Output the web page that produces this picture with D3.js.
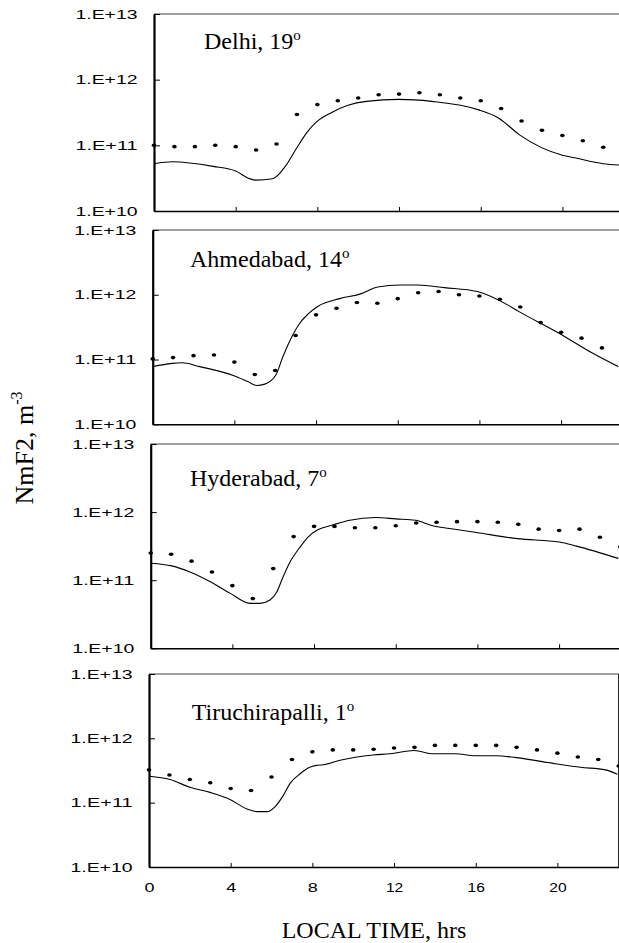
<!DOCTYPE html>
<html>
<head>
<meta charset="utf-8">
<script src="https://cdn.jsdelivr.net/npm/d3@7"></script>
<style>
    body { margin: 0; background: #fff; }
    svg { display: block; }
    .tick text { font-family: "Liberation Sans", Arial, sans-serif; font-size: 12.5px; fill: #000; }
    .serif { font-family: "Liberation Serif", "Times New Roman", serif; fill: #000; }
</style>
</head>
<body>
<svg id="chart" width="619" height="943"></svg>
<script>
// NmF2 diurnal variation, four Indian stations (values are log10 of NmF2 in m^-3)
const stations = ["Delhi", "Ahmedabad", "Hyderabad", "Tiruchirapalli"];
const latitudes = [19, 14, 7, 1];

const yTicks = [1e10, 1e11, 1e12, 1e13];
const yTickLabels = ["1.E+10", "1.E+11", "1.E+12", "1.E+13"];
const xTicks = [0, 4, 8, 12, 16, 20];

// observed hourly values (dots)
const obsHours = [0, 1, 2, 3, 4, 5, 6, 7, 8, 9, 10, 11, 12, 13, 14, 15, 16, 17, 18, 19, 20, 21, 22, 23];
const delhiObs = [11.00, 10.98, 10.98, 11.00, 10.98, 10.93, 11.02, 11.47, 11.62, 11.68, 11.72, 11.77,
                  11.78, 11.80, 11.77, 11.72, 11.68, 11.56, 11.37, 11.23, 11.15, 11.07, 10.97];
const ahmedabadObs = [11.01, 11.03, 11.06, 11.07, 10.96, 10.77, 10.83, 11.37, 11.69, 11.79, 11.88, 11.87,
                      11.94, 12.03, 12.05, 12.00, 11.98, 11.93, 11.81, 11.57, 11.42, 11.33, 11.18, 11.04];
const hyderabadObs = [11.40, 11.38, 11.28, 11.12, 10.92, 10.73, 11.17, 11.64, 11.79, 11.79, 11.77, 11.77,
                      11.80, 11.84, 11.85, 11.86, 11.86, 11.85, 11.82, 11.75, 11.73, 11.75, 11.63, 11.49];
const tiruchiObs = [11.51, 11.43, 11.36, 11.31, 11.22, 11.19, 11.40, 11.67, 11.79, 11.82, 11.82, 11.83,
                    11.85, 11.86, 11.89, 11.89, 11.89, 11.89, 11.86, 11.82, 11.77, 11.71, 11.67, 11.57];

// model curves (solid lines)
const delhiModelHours = [0, 0.9, 2.9, 4.0, 4.7, 5.0, 5.8, 6.45, 6.95, 7.5, 7.97, 8.7, 9.5, 10.4, 12.0,
                         13.6, 15.9, 16.9, 17.9, 20.0, 20.6, 22.0, 22.8];
const delhiModel = [10.72, 10.75, 10.68, 10.61, 10.49, 10.47, 10.49, 10.69, 10.94, 11.20, 11.36, 11.50, 11.61,
                    11.67, 11.70, 11.67, 11.54, 11.41, 11.16, 10.85, 10.81, 10.72, 10.70];
const ahmedabadModelHours = [0, 0.94, 1.43, 2.31, 3.98, 4.66, 5.1, 5.49, 6.03, 6.37, 6.86, 7.2, 7.6, 8.08,
                             9.16, 10.14, 11.02, 12.1, 12.97, 14.29, 15.9, 17.4, 17.94, 19.77, 21.53, 22.8];
const ahmedabadModel = [10.89, 10.94, 10.95, 10.89, 10.75, 10.66, 10.60, 10.62, 10.76, 11.04, 11.38, 11.56,
                        11.70, 11.82, 11.94, 12.01, 12.12, 12.15, 12.15, 12.11, 12.05, 11.84, 11.74, 11.43,
                        11.10, 10.89];
const hyderabadModelHours = [0, 1.04, 1.92, 2.9, 3.88, 4.86, 5.35, 5.84, 6.18, 6.47, 6.81, 7.3, 7.69, 8.18,
                             8.91, 9.75, 11.02, 12.0, 12.97, 13.8, 14.64, 15.96, 17.96, 20.01, 20.85, 22.9];
const hyderabadModel = [11.25, 11.21, 11.12, 10.98, 10.81, 10.66, 10.66, 10.71, 10.83, 11.04, 11.26, 11.48,
                        11.63, 11.74, 11.81, 11.88, 11.92, 11.90, 11.88, 11.80, 11.76, 11.70, 11.61, 11.56,
                        11.50, 11.32];
const tiruchiModelHours = [0, 1.03, 2.0, 2.99, 3.97, 4.8, 5.29, 5.78, 6.18, 6.57, 6.91, 7.4, 7.79, 8.19, 8.53,
                           9.36, 10.98, 11.81, 12.99, 13.92, 15.0, 15.98, 17.01, 17.99, 20.0, 21.13, 22.35, 22.94];
const tiruchiModel = [11.41, 11.36, 11.24, 11.16, 11.05, 10.90, 10.86, 10.86, 10.94, 11.11, 11.30, 11.45,
                      11.54, 11.58, 11.59, 11.66, 11.74, 11.76, 11.81, 11.76, 11.76, 11.73, 11.73, 11.70,
                      11.60, 11.55, 11.51, 11.44];

const obs = [delhiObs, ahmedabadObs, hyderabadObs, tiruchiObs];
const modelHours = [delhiModelHours, ahmedabadModelHours, hyderabadModelHours, tiruchiModelHours];
const models = [delhiModel, ahmedabadModel, hyderabadModel, tiruchiModel];

// panel layout
const hourPx = 20.42;
const panels = [
    { left: 154,   top: 14,  bottom: 211,   labelX: 204,   labelY: 49.3 },
    { left: 152.7, top: 230, bottom: 424.3, labelX: 190,   labelY: 266.7 },
    { left: 150.7, top: 444, bottom: 648.3, labelX: 190,   labelY: 486 },
    { left: 149,   top: 674, bottom: 867,   labelX: 191.7, labelY: 720 }
];

const svg = d3.select("#chart");

stations.forEach((name, i) => {
    const p = panels[i];
    const x = d3.scaleLinear().domain([0, 23]).range([p.left, p.left + 23 * hourPx]);
    const y = d3.scaleLog().domain([1e10, 1e13]).range([p.bottom, p.top]);
    const g = svg.append("g");

    // frame top (grey) and right (black)
    g.append("line")
        .attr("x1", p.left).attr("x2", x(23))
        .attr("y1", p.top).attr("y2", p.top)
        .attr("stroke", "#808080").attr("stroke-width", 1.6);
    g.append("line")
        .attr("x1", x(23)).attr("x2", x(23))
        .attr("y1", p.top).attr("y2", p.bottom)
        .attr("stroke", "#000").attr("stroke-width", 1);

    // model curve
    const pts = modelHours[i].map((h, k) => [h, models[i][k]]);
    g.append("path")
        .datum(pts)
        .attr("fill", "none")
        .attr("stroke", "#000")
        .attr("stroke-width", 1.1)
        .attr("d", d3.line()
            .x(d => x(d[0]))
            .y(d => y(Math.pow(10, d[1])))
            .curve(d3.curveMonotoneX));

    // observations
    g.selectAll("ellipse")
        .data(obs[i])
        .join("ellipse")
        .attr("cx", (d, k) => x(obsHours[k]))
        .attr("cy", d => y(Math.pow(10, d)))
        .attr("rx", 2.3)
        .attr("ry", 1.8)
        .attr("fill", "#000");

    // y axis
    const ya = g.append("g")
        .attr("transform", `translate(${p.left},0)`)
        .call(d3.axisLeft(y)
            .tickValues(yTicks)
            .tickSize(-6)
            .tickSizeOuter(0)
            .tickPadding(16.5)
            .tickFormat((d, k) => yTickLabels[k]));
    ya.select(".domain").attr("stroke-width", 2.2);
    ya.selectAll("text")
        .attr("textLength", 62)
        .attr("lengthAdjust", "spacingAndGlyphs");

    // x axis
    const xa = g.append("g")
        .attr("transform", `translate(0,${p.bottom})`)
        .call(d3.axisBottom(x)
            .tickValues(xTicks)
            .tickSize(-4)
            .tickSizeOuter(0)
            .tickPadding(15.8)
            .tickFormat(i === 3 ? d => d : () => ""));
    xa.select(".domain").attr("stroke-width", 1.6);
    xa.selectAll(".tick").filter(d => d === 0).select("line").remove();
    if (i === 3) {
        xa.selectAll("text")
            .attr("textLength", d => String(d).length > 1 ? 17.3 : 10)
            .attr("lengthAdjust", "spacingAndGlyphs");
    }

    // station label
    const lbl = g.append("text")
        .attr("class", "serif")
        .attr("x", p.labelX)
        .attr("y", p.labelY)
        .attr("font-size", 24);
    lbl.append("tspan").text(`${name}, ${latitudes[i]}`);
    lbl.append("tspan").attr("font-size", 15).attr("dy", -9).text("o");
});

// axis titles
const yTitle = svg.append("text")
    .attr("class", "serif")
    .attr("transform", "translate(33,448) rotate(-90)")
    .attr("text-anchor", "middle")
    .attr("font-size", 26);
yTitle.append("tspan").text("NmF2, m");
yTitle.append("tspan").attr("font-size", 16).attr("dy", -11).text("-3");

svg.append("text")
    .attr("class", "serif")
    .attr("x", 374)
    .attr("y", 938)
    .attr("text-anchor", "middle")
    .attr("font-size", 24)
    .text("LOCAL TIME, hrs");
</script>
</body>
</html>
